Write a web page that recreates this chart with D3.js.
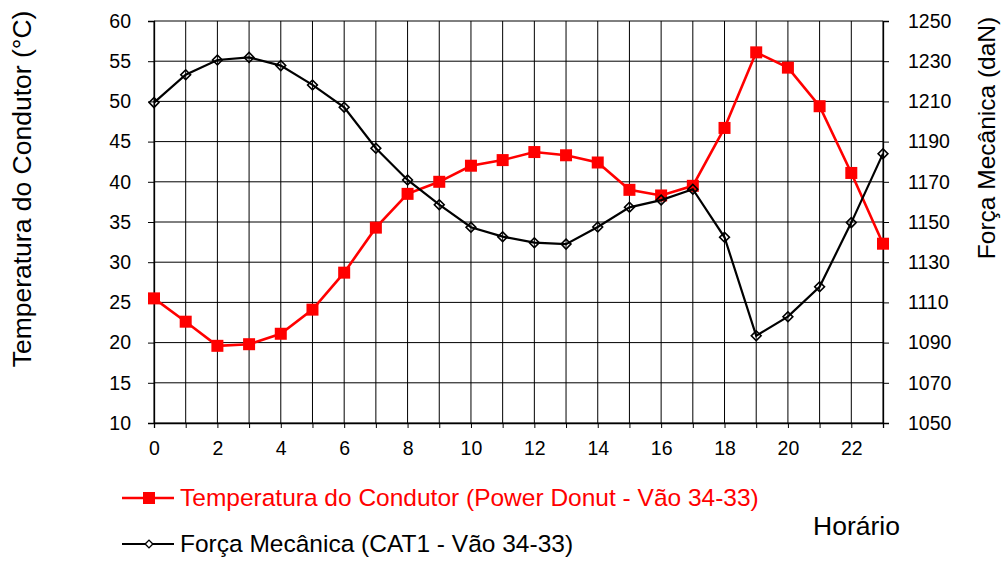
<!DOCTYPE html>
<html><head><meta charset="utf-8">
<script src="https://cdn.jsdelivr.net/npm/d3@7"></script>
<style>
html,body{margin:0;padding:0;background:#fff;}
svg{display:block;font-family:"Liberation Sans",Arial,sans-serif;}
</style></head>
<body>
<svg id="c" width="1001" height="561"></svg>
<script>
const hours = [0,1,2,3,4,5,6,7,8,9,10,11,12,13,14,15,16,17,18,19,20,21,22,23];
const temperatura = [25.5,22.6,19.6,19.8,21.1,24.1,28.7,34.3,38.5,40.0,42.0,42.7,43.7,43.3,42.4,39.0,38.3,39.5,46.7,56.1,54.2,49.4,41.1,32.3];
const forca = [1209.4,1223.3,1230.6,1231.9,1227.8,1218.2,1207.1,1186.7,1170.9,1158.6,1147.4,1142.7,1139.7,1139.0,1147.5,1157.3,1160.9,1166.3,1142.4,1093.4,1102.9,1117.8,1149.7,1184.0];
const leftTicks = [10,15,20,25,30,35,40,45,50,55,60];
const rightTicks = [1050,1070,1090,1110,1130,1150,1170,1190,1210,1230,1250];
const xLabels = [0,2,4,6,8,10,12,14,16,18,20,22];
const legendNames = ["Temperatura do Condutor (Power Donut - Vão 34-33)","Força Mecânica (CAT1 - Vão 34-33)"];
const leftTitle = "Temperatura do Condutor (°C)";
const rightTitle = "Força Mecânica (daN)";
const xTitle = "Horário";

const svg = d3.select("#c");
const L = 154, R = 883, T = 21, B = 423;
const x = d3.scaleLinear().domain([0,23]).range([L,R]);
const yL = d3.scaleLinear().domain([10,60]).range([B,T]);
const yR = d3.scaleLinear().domain([1050,1250]).range([B,T]);

// grid
const g = svg.append("g");
g.selectAll("line.v").data(hours).enter().append("line")
  .attr("x1",d=>x(d)).attr("x2",d=>x(d)).attr("y1",T).attr("y2",B)
  .attr("stroke","#000").attr("stroke-width",1);
g.selectAll("line.h").data(leftTicks).enter().append("line")
  .attr("x1",L).attr("x2",R).attr("y1",d=>yL(d)).attr("y2",d=>yL(d))
  .attr("stroke","#000").attr("stroke-width",1);

// axes
const axL = d3.axisLeft(yL).tickValues(leftTicks).tickSize(6).tickPadding(17);
const axR = d3.axisRight(yR).tickValues(rightTicks).tickSize(6).tickPadding(19).tickFormat(d3.format("d"));
const axB = d3.axisBottom(x).tickValues(hours).tickSize(5).tickPadding(13)
  .tickFormat(d => xLabels.includes(d) ? d : "");
function style(sel){
  sel.select(".domain").attr("stroke","#000").attr("stroke-width",1.3);
  sel.selectAll(".tick line").attr("stroke","#000").attr("stroke-width",1);
  sel.selectAll(".tick text").attr("fill","#000")
    .style("font-size","19.5px").style("font-family","'Liberation Sans',Arial,sans-serif");
}
svg.append("g").attr("transform",`translate(${L},0)`).call(axL).call(style);
svg.append("g").attr("transform",`translate(${R},0)`).call(axR).call(style);
svg.append("g").attr("transform",`translate(0,${B})`).call(axB).call(style);

// series
const lineT = d3.line().x((d,i)=>x(hours[i])).y(d=>yL(d));
const lineF = d3.line().x((d,i)=>x(hours[i])).y(d=>yR(d));
svg.append("path").attr("d",lineT(temperatura)).attr("fill","none")
  .attr("stroke","#ff0000").attr("stroke-width",2.6);
svg.selectAll("rect.m").data(temperatura).enter().append("rect")
  .attr("x",(d,i)=>x(hours[i])-6).attr("y",d=>yL(d)-6)
  .attr("width",12).attr("height",12).attr("fill","#ff0000");
svg.append("path").attr("d",lineF(forca)).attr("fill","none")
  .attr("stroke","#000").attr("stroke-width",2.2);
svg.selectAll("path.d").data(forca).enter().append("path")
  .attr("transform",(d,i)=>`translate(${x(hours[i])},${yR(d)}) rotate(45)`)
  .attr("d", d3.symbol().type(d3.symbolSquare).size(48)())
  .attr("fill","none").attr("stroke","#000").attr("stroke-width",1.6);

// titles
svg.append("text").attr("transform","translate(31,189) rotate(-90)")
  .attr("text-anchor","middle").style("font-size","26.5px").text(leftTitle);
svg.append("text").attr("transform","translate(995,138) rotate(-90)")
  .attr("text-anchor","middle").style("font-size","24.5px").text(rightTitle);
svg.append("text").attr("x",813).attr("y",535).style("font-size","26.5px").text(xTitle);

// legend
const lg = svg.append("g");
lg.append("line").attr("x1",122).attr("x2",174).attr("y1",498).attr("y2",498)
  .attr("stroke","#ff0000").attr("stroke-width",2.6);
lg.append("rect").attr("x",143).attr("y",492).attr("width",12).attr("height",12).attr("fill","#ff0000");
lg.append("text").attr("x",180).attr("y",506).attr("fill","#ff0000").style("font-size","24.5px").text(legendNames[0]);
lg.append("line").attr("x1",122).attr("x2",174).attr("y1",544).attr("y2",544)
  .attr("stroke","#000").attr("stroke-width",2.2);
lg.append("path").attr("transform","translate(149,544) rotate(45)")
  .attr("d", d3.symbol().type(d3.symbolSquare).size(30)())
  .attr("fill","#fff").attr("stroke","#000").attr("stroke-width",1.4);
lg.append("text").attr("x",180).attr("y",552).attr("fill","#000").style("font-size","24.5px").text(legendNames[1]);
</script>
</body></html>
